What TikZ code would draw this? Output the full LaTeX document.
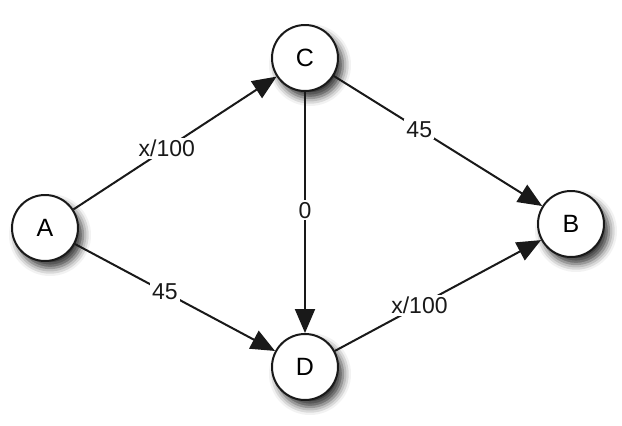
\documentclass[tikz,border=0pt]{standalone}
\usepackage{fontspec}
\setmainfont{Liberation Sans}
\usetikzlibrary{arrows.meta, shadows.blur}

\begin{document}
\begin{tikzpicture}[
    x=1pt, y=-1pt,
    vertex/.style={circle, draw=black!90, line width=2pt, fill=white, minimum size=66pt, inner sep=0pt, font=\fontsize{25}{25}\selectfont,
        blur shadow={shadow xshift=5pt, shadow yshift=-7pt, shadow blur radius=8pt, shadow opacity=80}},
    arr/.style={-{Triangle[length=24pt, width=20pt]}, line width=2pt, black!90},
    wlab/.style={fill=white, inner sep=2pt, font=\fontsize{23}{23}\selectfont},
]
\useasboundingbox (0,0) rectangle (622,426);

% vertices
\node[vertex] (A) at (45,228) {A};
\node[vertex] (C) at (305,58)  {C};
\node[vertex] (D) at (305,367) {D};
\node[vertex] (B) at (571,224) {B};

% edges with costs
\draw[arr] (A) -- node[wlab, pos=0.46] {x/100} (C);
\draw[arr] (C) -- node[wlab, pos=0.41] {45} (B);
\draw[arr] (C) -- node[wlab, pos=0.49] {0} (D);
\draw[arr] (A) -- node[wlab, pos=0.45] {45} (D);
\draw[arr] (D) -- node[wlab, pos=0.41] {x/100} (B);

\end{tikzpicture}
\end{document}
